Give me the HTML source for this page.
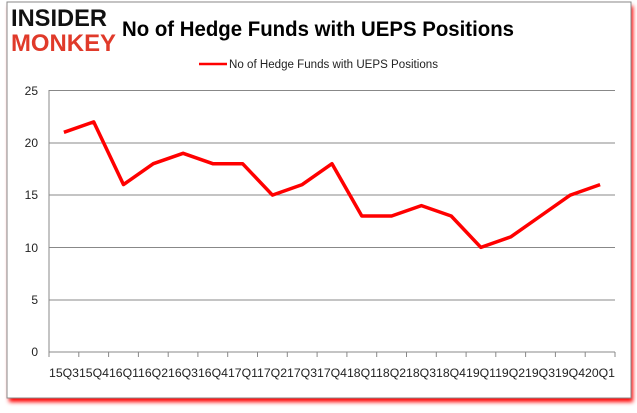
<!DOCTYPE html>
<html><head><style>
body{margin:0;background:#fff;width:637px;height:408px;overflow:hidden;font-family:"Liberation Sans",sans-serif}
</style></head><body>
<svg width="637" height="408" xmlns="http://www.w3.org/2000/svg">
<defs><filter id="s" x="-5%" y="-5%" width="110%" height="115%"><feGaussianBlur stdDeviation="2"/></filter></defs>
<rect x="9" y="6" width="624" height="396" fill="#f00" filter="url(#s)"/>
<rect x="7" y="2" width="624" height="396" fill="#fff" stroke="#888" stroke-width="1"/>
<text x="11" y="26" font-family="Liberation Sans" font-weight="900" font-size="24" fill="#111" textLength="96" lengthAdjust="spacingAndGlyphs">INSIDER</text>
<text x="11" y="51" font-family="Liberation Sans" font-weight="900" font-size="24" fill="#e03a2a" textLength="105" lengthAdjust="spacingAndGlyphs">MONKEY</text>
<text x="122" y="36" font-family="Liberation Sans" font-weight="bold" font-size="21" fill="#000" textLength="392" lengthAdjust="spacingAndGlyphs">No of Hedge Funds with UEPS Positions</text>
<line x1="199" y1="64" x2="227" y2="64" stroke="#f00" stroke-width="2.5"/>
<text x="229" y="68" font-size="11.5" fill="#222" textLength="209" lengthAdjust="spacingAndGlyphs">No of Hedge Funds with UEPS Positions</text>
<g stroke="#888" stroke-width="1">
<line x1="49" y1="90.5" x2="615" y2="90.5"/>
<line x1="49" y1="143" x2="615" y2="143"/>
<line x1="49" y1="195" x2="615" y2="195"/>
<line x1="49" y1="247.5" x2="615" y2="247.5"/>
<line x1="49" y1="300" x2="615" y2="300"/>
<line x1="49" y1="352" x2="615" y2="352"/>
<line x1="49" y1="90" x2="49" y2="352"/>
</g>
<g stroke="#888" stroke-width="1" id="ticks"></g>
<g font-size="12" fill="#222" text-anchor="end">
<text x="38" y="95">25</text><text x="38" y="147">20</text><text x="38" y="199">15</text><text x="38" y="252">10</text><text x="38" y="304">5</text><text x="38" y="356">0</text>
</g>
<text x="49" y="377" font-size="11.5" fill="#222" textLength="566" lengthAdjust="spacingAndGlyphs">15Q315Q416Q116Q216Q316Q417Q117Q217Q317Q418Q118Q218Q318Q419Q119Q219Q319Q420Q1</text>
<polyline id="ln" fill="none" stroke="#f00" stroke-width="3.5" stroke-linejoin="round"/>
</svg>
<script>
var d=[21,22,16,18,19,18,18,15,16,18,13,13,14,13,10,11,13,15,16];
var p=[],sp=566/19;
d.forEach(function(v,i){p.push((49+sp/2+i*sp).toFixed(1)+","+(352-v*10.46).toFixed(1));});
document.getElementById("ln").setAttribute("points",p.join(" "));
var g=document.getElementById("ticks"),h="";
for(var i=0;i<=19;i++){var x=(49+i*sp).toFixed(1);h+='<line x1="'+x+'" y1="352" x2="'+x+'" y2="357"/>';}
g.innerHTML=h;
</script>
</body></html>
